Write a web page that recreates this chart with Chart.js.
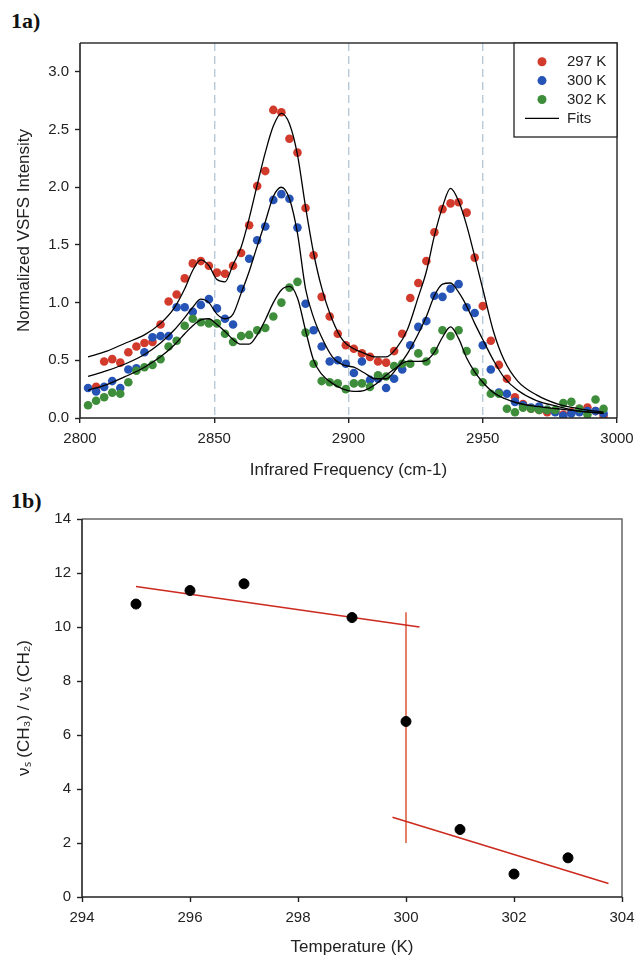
<!DOCTYPE html>
<html>
<head>
<meta charset="utf-8">
<script src="https://cdn.jsdelivr.net/npm/chart.js@4.4.1/dist/chart.umd.min.js"></script>
<style>
  html, body { margin: 0; padding: 0; background: #fff; }
  body { width: 635px; height: 959px; position: relative; overflow: hidden; }
  .panel { position: absolute; left: 0; width: 635px; }
  #wrapA { top: 0; height: 482px; }
  #wrapB { top: 482px; height: 477px; }
  .tag { position: absolute; left: 11px; line-height: 1; font-family: "Liberation Serif", "Times New Roman", serif; font-weight: bold; font-size: 22px; color: #111; }
</style>
</head>
<body>
<div class="tag" style="top:10px">1a)</div>
<div class="tag" style="top:490px">1b)</div>
<div class="panel" id="wrapA"><canvas id="chartA" width="635" height="482"></canvas></div>
<div class="panel" id="wrapB"><canvas id="chartB" width="635" height="477"></canvas></div>

<script>
// ---- 1a) VSFS spectra ----
const freq = [2803, 2806, 2809, 2812, 2815, 2818, 2821, 2824, 2827, 2830, 2833, 2836, 2839, 2842, 2845, 2848,
  2851, 2854, 2857, 2860, 2863, 2866, 2869, 2872, 2875, 2878, 2881, 2884, 2887, 2890, 2893, 2896, 2899,
  2902, 2905, 2908, 2911, 2914, 2917, 2920, 2923, 2926, 2929, 2932, 2935, 2938, 2941, 2944, 2947, 2950,
  2953, 2956, 2959, 2962, 2965, 2968, 2971, 2974, 2977, 2980, 2983, 2986, 2989, 2992, 2995];

const int297 = [null, 0.27, 0.49, 0.51, 0.48, 0.57, 0.62, 0.65, 0.66, 0.81,
  1.01, 1.07, 1.21, 1.34, 1.36, 1.32, 1.26, 1.25, 1.32, 1.43,
  1.67, 2.01, 2.14, 2.67, 2.65, 2.42, 2.30, 1.82, 1.41, 1.05,
  0.88, 0.73, 0.63, 0.60, 0.56, 0.53, 0.49, 0.48, 0.58, 0.73,
  1.04, 1.17, 1.36, 1.61, 1.81, 1.86, 1.87, 1.78, 1.39, 0.97,
  0.67, 0.46, 0.34, 0.18, 0.12, 0.08, 0.07, 0.05, 0.06, 0.03,
  0.05, 0.08, 0.09, 0.06, 0.02];

const int300 = [0.26, 0.23, 0.27, 0.32, 0.26, 0.42, 0.43, 0.57, 0.70, 0.71,
  0.71, 0.96, 0.96, 0.92, 0.98, 1.03, 0.95, 0.86, 0.81, 1.12,
  1.38, 1.54, 1.66, 1.89, 1.94, 1.90, 1.65, 0.99, 0.76, 0.62,
  0.49, 0.50, 0.47, 0.39, 0.49, 0.33, 0.34, 0.26, 0.34, 0.42,
  0.63, 0.79, 0.84, 1.06, 1.05, 1.12, 1.16, 0.96, 0.91, 0.63,
  0.42, 0.22, 0.21, 0.14, 0.11, 0.09, 0.10, 0.07, 0.05, 0.02,
  0.04, 0.05, 0.06, 0.06, 0.04];

const int302 = [0.11, 0.15, 0.18, 0.22, 0.21, 0.31, 0.41, 0.44, 0.46, 0.51,
  0.62, 0.67, 0.80, 0.86, 0.83, 0.82, 0.82, 0.73, 0.66, 0.71,
  0.72, 0.76, 0.78, 0.88, 1.00, 1.13, 1.18, 0.74, 0.47, 0.32,
  0.31, 0.30, 0.25, 0.30, 0.30, 0.27, 0.37, 0.36, 0.45, 0.47,
  0.47, 0.56, 0.49, 0.58, 0.76, 0.71, 0.76, 0.58, 0.40, 0.31,
  0.21, 0.21, 0.08, 0.05, 0.09, 0.08, 0.07, 0.07, 0.07, 0.13,
  0.14, 0.08, 0.03, 0.16, 0.08];

const fitFreq = [2803, 2810, 2817, 2824, 2830, 2835, 2839, 2842, 2845, 2848, 2851, 2854, 2857, 2860, 2863, 2866,
  2869, 2872, 2875, 2878, 2881, 2884, 2887, 2890, 2894, 2898, 2902, 2906, 2910, 2914, 2918, 2922, 2926,
  2929, 2932, 2935, 2938, 2941, 2944, 2947, 2950, 2954, 2958, 2963, 2970, 2978, 2986, 2995];
const fit297 = [0.53, 0.58, 0.65, 0.72, 0.82, 0.95, 1.12, 1.28, 1.37, 1.32,
  1.20, 1.18, 1.33, 1.48, 1.73, 2.02, 2.30, 2.53, 2.64, 2.55,
  2.28, 1.83, 1.43, 1.13, 0.85, 0.67, 0.60, 0.56, 0.53, 0.53,
  0.61, 0.77, 1.05, 1.27, 1.58, 1.83, 1.99, 1.88, 1.67, 1.40,
  1.12, 0.75, 0.50, 0.32, 0.20, 0.12, 0.08, 0.05];
const fit300 = [0.36, 0.41, 0.47, 0.55, 0.65, 0.76, 0.87, 0.96, 1.03, 1.00,
  0.90, 0.86, 0.90, 1.08, 1.27, 1.49, 1.70, 1.92, 2.00, 1.90,
  1.60, 1.12, 0.87, 0.70, 0.53, 0.46, 0.44, 0.39, 0.34, 0.34,
  0.43, 0.56, 0.73, 0.88, 1.06, 1.16, 1.17, 1.09, 0.97, 0.82,
  0.68, 0.50, 0.35, 0.24, 0.15, 0.10, 0.06, 0.04];
const fit302 = [0.24, 0.29, 0.36, 0.44, 0.53, 0.63, 0.73, 0.80, 0.85, 0.86,
  0.81, 0.75, 0.68, 0.64, 0.64, 0.72, 0.85, 1.00, 1.11, 1.14,
  1.04, 0.76, 0.50, 0.38, 0.30, 0.25, 0.23, 0.24, 0.29, 0.37,
  0.44, 0.49, 0.49, 0.50, 0.57, 0.70, 0.79, 0.69, 0.52, 0.40,
  0.31, 0.22, 0.17, 0.13, 0.10, 0.08, 0.06, 0.04];

const seriesNames = ['297 K', '300 K', '302 K'];
const fitName = 'Fits';
const freqTicks = [2800, 2850, 2900, 2950, 3000];
const intensityTicks = [0, 0.5, 1.0, 1.5, 2.0, 2.5, 3.0];
const markerLines = [2850, 2900, 2950];

// ---- 1b) ratio vs temperature ----
const temps = [295, 296, 297, 299, 300, 301, 302, 303];
const ratio = [10.85, 11.35, 11.6, 10.35, 6.5, 2.5, 0.85, 1.45];
const lowLineT = [295, 300.25];
const lowLineR = [11.5, 10.0];
const jumpT = [300, 300];
const jumpR = [10.55, 2.0];
const highLineT = [299.75, 303.75];
const highLineR = [2.95, 0.5];
const tempTicks = [294, 296, 298, 300, 302, 304];
const ratioTicks = [0, 2, 4, 6, 8, 10, 12, 14];

const seriesColors = ['#d23a2c', '#2553b6', '#3d8d3a'];
const FONT = '"Liberation Sans", Arial, Helvetica, sans-serif';
const ink = '#222';

const pts = (xs, ys) => xs.map((x, i) => ({ x: x, y: ys[i] }));

// keep the plot box where we put it: no extra room for overhanging end labels
function fixHeight(h) {
  return s => { s.height = h; s.paddingLeft = 0; s.paddingRight = 0; };
}
function fixWidth(w) {
  return s => { s.width = w; s.paddingTop = 0; s.paddingBottom = 0; };
}

// left/bottom axis lines + top/right frame, drawn solid
function framePlugin(color) {
  return {
    id: 'frame',
    afterDraw(chart) {
      const { ctx, chartArea: a } = chart;
      ctx.save();
      ctx.setLineDash([]);
      ctx.lineWidth = 1.5;
      ctx.strokeStyle = color;
      ctx.beginPath();
      ctx.moveTo(a.left, a.top);
      ctx.lineTo(a.right, a.top);
      ctx.lineTo(a.right, a.bottom);
      ctx.stroke();
      ctx.strokeStyle = ink;
      ctx.lineWidth = 1.6;
      ctx.beginPath();
      ctx.moveTo(a.left, a.top);
      ctx.lineTo(a.left, a.bottom);
      ctx.lineTo(a.right, a.bottom);
      ctx.stroke();
      ctx.restore();
    }
  };
}

const insetLegend = {
  id: 'insetLegend',
  afterDraw(chart) {
    const { ctx, chartArea } = chart;
    const w = 103, h = 94;
    const x0 = chartArea.right - w, y0 = chartArea.top;
    ctx.save();
    ctx.fillStyle = '#fff';
    ctx.fillRect(x0, y0, w, h);
    ctx.strokeStyle = ink;
    ctx.lineWidth = 1.3;
    ctx.strokeRect(x0, y0, w, h);
    ctx.font = '15px ' + FONT;
    ctx.textBaseline = 'middle';
    const rows = seriesNames.concat([fitName]);
    rows.forEach((label, i) => {
      const y = y0 + 18.7 + i * 18.9;
      if (i < seriesNames.length) {
        ctx.fillStyle = seriesColors[i];
        ctx.beginPath();
        ctx.arc(x0 + 28, y, 4.5, 0, Math.PI * 2);
        ctx.fill();
      } else {
        ctx.strokeStyle = '#000';
        ctx.lineWidth = 1.2;
        ctx.beginPath();
        ctx.moveTo(x0 + 11, y);
        ctx.lineTo(x0 + 45, y);
        ctx.stroke();
      }
      ctx.fillStyle = ink;
      ctx.fillText(label, x0 + 53, y);
    });
    ctx.restore();
  }
};

const tickFont = { family: FONT, size: 15 };
const titleFont = { family: FONT, size: 17 };

// Chart 1a
const intensities = [int297, int300, int302];
const fits = [fit297, fit300, fit302];
const datasetsA = [];
fits.forEach((f, i) => {
  datasetsA.push({
    type: 'line',
    label: fitName,
    data: pts(fitFreq, f),
    borderColor: '#000',
    borderWidth: 1.3,
    pointRadius: 0,
    cubicInterpolationMode: 'monotone',
    fill: false,
    order: 0
  });
});
intensities.forEach((vals, i) => {
  datasetsA.push({
    type: 'scatter',
    label: seriesNames[i],
    data: pts(freq, vals).filter(p => p.y !== null),
    backgroundColor: seriesColors[i],
    borderColor: seriesColors[i],
    borderWidth: 0,
    pointRadius: 4.3,
    order: 3 - i
  });
});

new Chart(document.getElementById('chartA'), {
  type: 'scatter',
  data: { datasets: datasetsA },
  options: {
    responsive: false,
    animation: false,
    layout: { padding: { top: 43, right: 18, left: 0, bottom: 0 } },
    plugins: { legend: { display: false }, tooltip: { enabled: false } },
    scales: {
      x: {
        type: 'linear', min: 2800, max: 3000,
        afterBuildTicks: s => { s.ticks = freqTicks.map(v => ({ value: v })); },
        afterFit: fixHeight(64),
        border: { display: false, dash: [8, 5] },
        grid: {
          drawOnChartArea: true,
          color: c => markerLines.includes(c.tick && c.tick.value) ? '#b7c9d6' : 'rgba(0,0,0,0)',
          lineWidth: 1.4,
          tickColor: ink,
          tickWidth: 1.4,
          tickLength: 5,
          tickBorderDash: []
        },
        ticks: { font: tickFont, color: ink, padding: 7, maxRotation: 0, callback: v => String(v) },
        title: { display: true, text: 'Infrared Frequency (cm-1)', font: titleFont, color: ink, padding: { top: 0, bottom: 1 } }
      },
      y: {
        min: 0, max: 3.25,
        afterBuildTicks: s => { s.ticks = intensityTicks.map(v => ({ value: v })); },
        afterFit: fixWidth(80),
        border: { display: false },
        grid: { drawOnChartArea: false, drawTicks: true, tickLength: 5, tickColor: ink, tickWidth: 1.4 },
        ticks: { font: tickFont, color: ink, padding: 6, callback: v => v.toFixed(1) },
        title: { display: true, text: 'Normalized VSFS Intensity', font: titleFont, color: ink, padding: { top: 14, bottom: 0 } }
      }
    }
  },
  plugins: [framePlugin('#333'), insetLegend]
});

// Chart 1b
new Chart(document.getElementById('chartB'), {
  type: 'scatter',
  data: {
    datasets: [
      { label: 'ratio', data: pts(temps, ratio), backgroundColor: '#000', borderColor: '#000', pointRadius: 5, order: 0 },
      { type: 'line', label: 'low T', data: pts(lowLineT, lowLineR), borderColor: '#cc2a1e', borderWidth: 1.6, pointRadius: 0, order: 1 },
      { type: 'line', label: 'transition', data: pts(jumpT, jumpR), borderColor: '#e2806a', borderWidth: 2, pointRadius: 0, order: 2 },
      { type: 'line', label: 'high T', data: pts(highLineT, highLineR), borderColor: '#cc2a1e', borderWidth: 1.6, pointRadius: 0, order: 1 }
    ]
  },
  options: {
    responsive: false,
    animation: false,
    layout: { padding: { top: 37, right: 13, left: 0, bottom: 0 } },
    plugins: { legend: { display: false }, tooltip: { enabled: false } },
    scales: {
      x: {
        type: 'linear', min: 294, max: 304,
        afterBuildTicks: s => { s.ticks = tempTicks.map(v => ({ value: v })); },
        afterFit: fixHeight(62),
        border: { display: false },
        grid: { drawOnChartArea: false, drawTicks: true, tickLength: 5, tickColor: ink, tickWidth: 1.4 },
        ticks: { font: tickFont, color: ink, padding: 7, maxRotation: 0, callback: v => String(v) },
        title: { display: true, text: 'Temperature (K)', font: titleFont, color: ink, padding: { top: 0, bottom: 1 } }
      },
      y: {
        min: 0, max: 14,
        afterBuildTicks: s => { s.ticks = ratioTicks.map(v => ({ value: v })); },
        afterFit: fixWidth(82),
        border: { display: false },
        grid: { drawOnChartArea: false, drawTicks: true, tickLength: 5, tickColor: ink, tickWidth: 1.4 },
        ticks: { font: tickFont, color: ink, padding: 6 },
        title: { display: true, text: 'νₛ (CH₃) / νₛ (CH₂)', font: titleFont, color: ink, padding: { top: 14, bottom: 0 } }
      }
    }
  },
  plugins: [framePlugin('#666')]
});
</script>
</body>
</html>
